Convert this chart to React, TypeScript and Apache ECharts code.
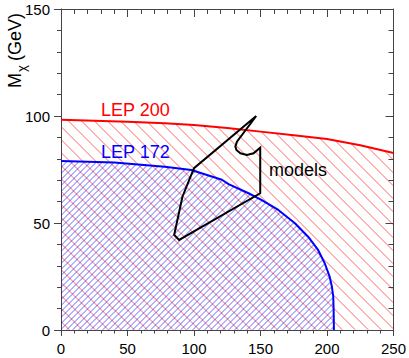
import React, { useEffect, useRef } from 'react';
import * as echarts from 'echarts';

// LEP 200 kinematic limit (red)
const lep200X = [0, 25, 50, 78, 100, 125, 150, 175, 200, 225, 250];
const lep200Y = [98.2, 97.8, 97.3, 96.6, 95.8, 94.4, 92.7, 91.0, 89.3, 86.3, 82.7];

// LEP 172 limit (blue)
const lep172X = [0, 40, 78, 98, 121, 126, 141, 151, 163.4, 175.9, 185.8, 193.3, 198.3, 202, 203.7, 204.7, 205, 205.2];
const lep172Y = [79, 78.3, 76.3, 74.8, 70.2, 68.2, 63.9, 60.7, 56.1, 49.9, 43.6, 37.4, 31.2, 24.9, 20.2, 15.6, 9.3, 0];

// models contour (black)
const modelsX = [146.8, 100, 91.3, 85.1, 88.8, 149.8, 149.8, 144.8, 139.8, 134.9, 131.9, 131.1, 132.3, 146.8];
const modelsY = [100, 75.6, 62.3, 44.4, 42.1, 63.9, 85.2, 82.6, 81.8, 82.6, 84.1, 85.7, 88, 100];

const xMin = 0, xMax = 250, xStep = 50;
const yMin = 0, yMax = 150, yStep = 50;

const FONT = '"Liberation Sans", Arial, Helvetica, sans-serif';

type Pt = number[];

function inside(poly: Pt[], x: number, y: number) {
  let c = false;
  for (let i = 0, j = poly.length - 1; i < poly.length; j = i++) {
    const xi = poly[i][0], yi = poly[i][1], xj = poly[j][0], yj = poly[j][1];
    if ((yi > y) !== (yj > y) && x < ((xj - xi) * (y - yi)) / (yj - yi) + xi) c = !c;
  }
  return c;
}

function hatchLines(poly: Pt[], period: number, dir: 'back' | 'fwd') {
  let minX = Infinity, maxX = -Infinity, minY = Infinity, maxY = -Infinity;
  for (const p of poly) {
    minX = Math.min(minX, p[0]); maxX = Math.max(maxX, p[0]);
    minY = Math.min(minY, p[1]); maxY = Math.max(maxY, p[1]);
  }
  const segs: number[][] = [];
  const cLo = dir === 'back' ? minY - maxX : minX + minY;
  const cHi = dir === 'back' ? maxY - minX : maxX + maxY;
  const step = 0.25;
  for (let k = Math.floor(cLo / period); k <= Math.ceil(cHi / period); k++) {
    const c = k * period + 0.5;
    let start: number[] | null = null;
    let last: number[] | null = null;
    for (let x = minX; x <= maxX + step; x += step) {
      const y = dir === 'back' ? x + c : c - x;
      const inn = y >= minY && y <= maxY && x <= maxX && inside(poly, x, y);
      if (inn) {
        if (!start) start = [x, y];
        last = [x, y];
      } else if (start && last) {
        segs.push([start[0], start[1], last[0], last[1]]);
        start = null; last = null;
      }
    }
    if (start && last) segs.push([start[0], start[1], last[0], last[1]]);
  }
  return segs;
}

function hatchSeries(xs: number[], ys: number[], period: number, color: string, dir: 'back' | 'fwd', z: number) {
  return {
    type: 'custom',
    coordinateSystem: 'cartesian2d',
    xAxisIndex: 0,
    yAxisIndex: 0,
    z,
    silent: true,
    clip: true,
    data: [[xs[0], ys[0]]],
    renderItem: (_params: any, api: any) => {
      const poly: Pt[] = xs.map((x, i) => api.coord([x, ys[i]]));
      poly.push(api.coord([xs[xs.length - 1], 0]));
      poly.push(api.coord([xs[0], 0]));
      const children = hatchLines(poly, period, dir).map(([x1, y1, x2, y2]) => ({
        type: 'line',
        shape: { x1, y1, x2, y2 },
        style: { stroke: color, lineWidth: 1 },
      }));
      return { type: 'group', children };
    },
  };
}

export default function App() {
  const ref = useRef<HTMLDivElement>(null);
  useEffect(() => {
    if (!ref.current) return;
    const chart = echarts.init(ref.current, undefined, { renderer: 'svg' });
    const axisColor = '#444';
    const baseAxis = (extra: any) => ({
      type: 'value',
      axisLine: { show: true, onZero: false, lineStyle: { color: axisColor, width: 1 } },
      splitLine: { show: false },
      ...extra,
    });
    chart.setOption({
      animation: false,
      backgroundColor: '#fff',
      grid: { left: 61, top: 9, right: 13, bottom: 28 },
      xAxis: [
        baseAxis({
          min: xMin, max: xMax, interval: xStep, position: 'bottom',
          axisTick: { show: true, length: 6, lineStyle: { color: axisColor } },
          minorTick: { show: true, splitNumber: 5, length: 3.5, lineStyle: { color: axisColor } },
          axisLabel: { color: '#000', fontSize: 15, margin: 11, fontFamily: FONT },
        }),
        baseAxis({
          min: xMin, max: xMax, interval: xStep, position: 'top',
          axisTick: { show: true, inside: true, length: 8, lineStyle: { color: axisColor } },
          minorTick: { show: true, splitNumber: 5, length: 5, lineStyle: { color: axisColor } },
          axisLabel: { show: false },
        }),
      ],
      yAxis: [
        baseAxis({
          min: yMin, max: yMax, interval: yStep, position: 'left',
          axisTick: { show: true, length: 7, lineStyle: { color: axisColor } },
          minorTick: { show: true, splitNumber: 5, length: 4, lineStyle: { color: axisColor } },
          axisLabel: { color: '#000', fontSize: 15, margin: 11, fontFamily: FONT },
        }),
        baseAxis({
          min: yMin, max: yMax, interval: yStep, position: 'right',
          axisTick: { show: true, inside: true, length: 8, lineStyle: { color: axisColor } },
          minorTick: { show: true, splitNumber: 5, length: 5, lineStyle: { color: axisColor } },
          axisLabel: { show: false },
        }),
      ],
      series: [
        hatchSeries(lep200X, lep200Y, 13, 'rgba(255,0,0,0.6)', 'back', 1),
        hatchSeries(lep172X, lep172Y, 6, 'rgba(0,0,255,0.6)', 'fwd', 1),
        {
          type: 'line', xAxisIndex: 0, yAxisIndex: 0, symbol: 'none', smooth: false, z: 3,
          data: lep200X.map((x, i) => [x, lep200Y[i]]),
          lineStyle: { color: '#ff0000', width: 2 },
        },
        {
          type: 'line', xAxisIndex: 0, yAxisIndex: 0, symbol: 'none', smooth: false, z: 3,
          data: lep172X.map((x, i) => [x, lep172Y[i]]),
          lineStyle: { color: '#0000ff', width: 2 },
        },
        {
          type: 'line', xAxisIndex: 0, yAxisIndex: 0, symbol: 'none', smooth: false, z: 4,
          data: modelsX.map((x, i) => [x, modelsY[i]]),
          lineStyle: { color: '#000', width: 2, join: 'miter' },
        },
      ],
      graphic: [
        {
          type: 'text', x: 101, y: 110, z: 10,
          style: { text: 'LEP 200', fill: '#ff0000', font: `18px ${FONT}`, align: 'left', verticalAlign: 'middle' },
        },
        {
          type: 'text', x: 101, y: 152, z: 10,
          style: { text: 'LEP 172', fill: '#0000ff', font: `18px ${FONT}`, align: 'left', verticalAlign: 'middle' },
        },
        {
          type: 'text', x: 269, y: 170, z: 10,
          style: { text: 'models', fill: '#000', font: `18px ${FONT}`, align: 'left', verticalAlign: 'middle' },
        },
        {
          type: 'text', x: 15, y: 88, rotation: Math.PI / 2, z: 10,
          style: { text: 'M', fill: '#000', font: `18px ${FONT}`, align: 'left', verticalAlign: 'middle' },
        },
        {
          type: 'text', x: 21, y: 72, rotation: Math.PI / 2, z: 10,
          style: { text: 'χ', fill: '#000', font: `13px ${FONT}`, align: 'left', verticalAlign: 'middle' },
        },
        {
          type: 'text', x: 15, y: 13, rotation: Math.PI / 2, z: 10,
          style: { text: '(GeV)', fill: '#000', font: `18px ${FONT}`, align: 'right', verticalAlign: 'middle' },
        },
      ],
    });
    return () => chart.dispose();
  }, []);
  return <div ref={ref} style={{ position: 'absolute', left: 0, top: 0, width: 409, height: 358 }} />;
}
